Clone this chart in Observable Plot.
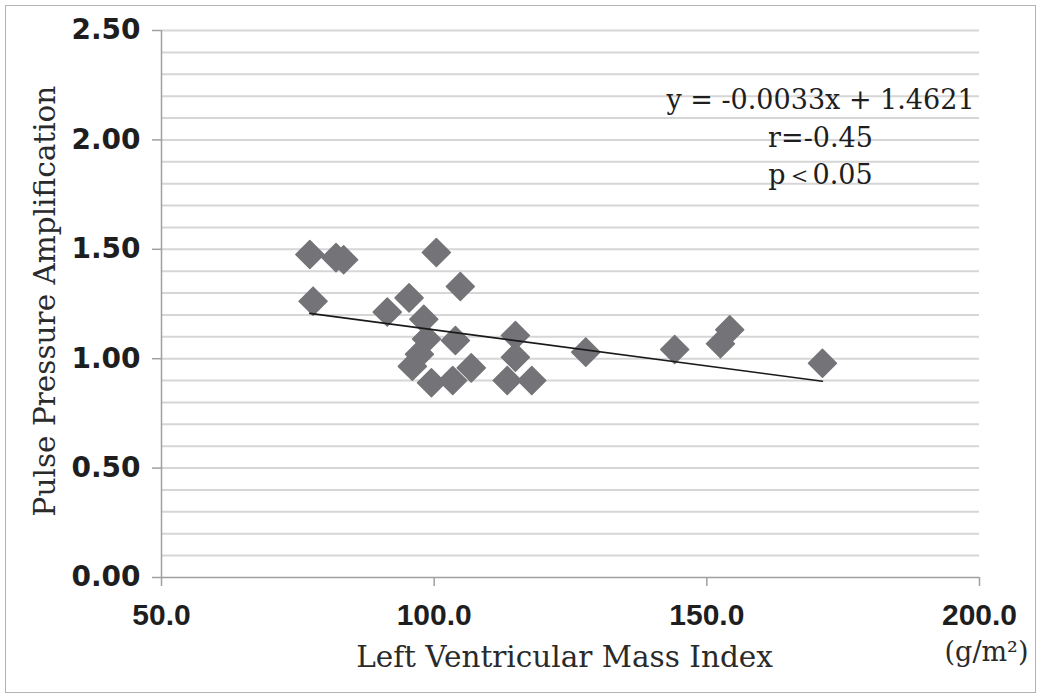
<!DOCTYPE html>
<html>
<head>
<meta charset="utf-8">
<script src="https://cdn.jsdelivr.net/npm/d3@7"></script>
<script src="https://cdn.jsdelivr.net/npm/@observablehq/plot@0.6"></script>
<style>
  html, body { margin: 0; padding: 0; background: #fff; }
  #wrap { position: relative; width: 1041px; height: 697px; overflow: hidden; }
  #border { position: absolute; left: 5px; top: 5px; width: 1029px; height: 686px; border: 1px solid #b4b4b4; pointer-events: none; }
</style>
</head>
<body>
<div id="wrap"><div id="border"></div></div>
<script>
// Left Ventricular Mass Index (g/m2)
const lvmi = [77.2, 77.8, 82.0, 83.4, 91.4, 95.4, 100.4, 104.8, 98.1, 103.9,
              114.9, 114.9, 113.4, 117.9, 127.8, 144.1, 152.5, 154.2, 171.2,
              96.0, 97.3, 98.6, 99.5, 103.4, 106.8];
// Pulse Pressure Amplification
const ppa  = [1.476, 1.263, 1.462, 1.452, 1.213, 1.278, 1.485, 1.330, 1.180, 1.083,
              1.106, 1.007, 0.900, 0.900, 1.030, 1.042, 1.068, 1.132, 0.979,
              0.965, 1.020, 1.090, 0.890, 0.900, 0.958];
const slope = -0.0033, intercept = 1.4621;
const xTicks = [50, 100, 150, 200];
const yTicks = [0, 0.5, 1.0, 1.5, 2.0, 2.5];
const gridY = [0.1,0.2,0.3,0.4,0.5,0.6,0.7,0.8,0.9,1.0,1.1,1.2,1.3,1.4,1.5,1.6,1.7,1.8,1.9,2.0,2.1,2.2,2.3,2.4,2.5];
const statLines = ["y = -0.0033x + 1.4621", "r=-0.45", "p\uFF1C0.05"];
const xTitle = "Left Ventricular Mass Index";
const yTitle = "Pulse Pressure Amplification";
const unit = "(g/m\u00B2)";

const points = lvmi.map((x, i) => ({x, y: ppa[i]}));
const xMin = d3.min(lvmi), xMax = d3.max(lvmi);
const fit = [xMin, xMax].map(x => ({x, y: slope * x + intercept}));

const serif = "'DejaVu Serif', 'Liberation Serif', serif";
const sans = "'Liberation Sans', Arial, sans-serif";
const sansWide = "'DejaVu Sans', 'Liberation Sans', sans-serif";

const chart = Plot.plot({
  width: 1041,
  height: 697,
  marginLeft: 161,
  marginRight: 62,
  marginTop: 30,
  marginBottom: 120,
  style: {background: "transparent", overflow: "visible"},
  x: {domain: [50, 200]},
  y: {domain: [0, 2.5]},
  marks: [
    Plot.ruleY(gridY, {x1: 50, x2: 200, stroke: "#d6d6d6", strokeWidth: 2}),
    Plot.axisY({ticks: yTicks, tickFormat: d3.format(".2f"), tickSize: 9, tickPadding: 12,
      stroke: "#a0a0a0", strokeWidth: 1.5, label: null,
      fontSize: 28, fontWeight: "bold", fontFamily: sansWide, fill: "#1e1e1e"}),
    Plot.axisX({ticks: xTicks, tickFormat: d3.format(".1f"), tickSize: 9, tickPadding: 17,
      stroke: "#a0a0a0", strokeWidth: 1.5, label: null,
      fontSize: 30, fontWeight: "bold", fontFamily: sans, fill: "#1e1e1e"}),
    Plot.ruleX([50], {y1: 0, y2: 2.5, stroke: "#a0a0a0", strokeWidth: 1.5}),
    Plot.ruleY([0], {x1: 50, x2: 200, stroke: "#a0a0a0", strokeWidth: 1.5}),
    Plot.dot(points, {x: "x", y: "y", symbol: "diamond2", r: 12.6, fill: "#747478",
      stroke: "#747478", strokeWidth: 1.5, strokeLinejoin: "round"}),
    Plot.line(fit, {x: "x", y: "y", stroke: "#1a1a1a", strokeWidth: 1.6}),
    Plot.text([statLines.join("\n")], {frameAnchor: "top", lineAnchor: "top", lineHeight: 1.39,
      dx: 250, dy: 52, fontFamily: serif, fontSize: 27, fill: "#1e1e1e"}),
    Plot.text([xTitle], {frameAnchor: "bottom", dx: -6, dy: 89, fontFamily: serif, fontSize: 29.5, fill: "#2a2a2a"}),
    Plot.text([unit], {frameAnchor: "bottom", dx: 416, dy: 83, fontFamily: serif, fontSize: 27, fill: "#2a2a2a"}),
    Plot.text([yTitle], {frameAnchor: "middle", dx: -525, dy: -3, rotate: -90, fontFamily: serif, fontSize: 29.5, fill: "#2a2a2a"})
  ]
});

document.getElementById("wrap").appendChild(chart);
</script>
</body>
</html>
